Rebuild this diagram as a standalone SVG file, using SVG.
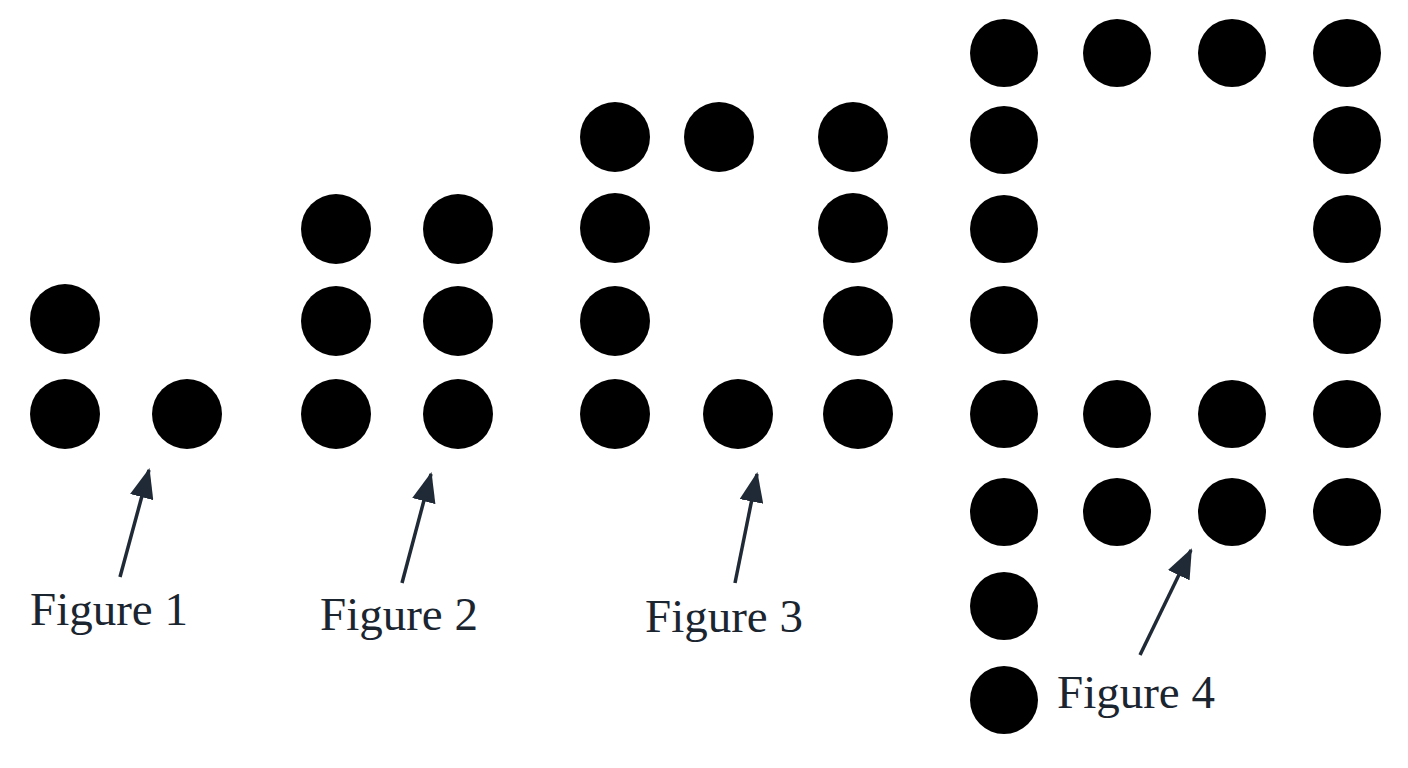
<svg xmlns="http://www.w3.org/2000/svg" width="1408" height="768" viewBox="0 0 1408 768">
<style>
.d{fill:#000}
.l{font-family:"Liberation Serif",serif;font-size:47px;fill:#1a2530}
.a{stroke:#1f2a36;stroke-width:3.5;fill:none}
</style>
<defs><marker id="ah" markerWidth="10" markerHeight="10" refX="8" refY="5" orient="auto" markerUnits="userSpaceOnUse" viewBox="0 0 10 10"><path d="M0,0 L10,5 L0,10 Z" fill="#1f2a36"/></marker>
<marker id="h" viewBox="0 0 30 24" refX="28" refY="12" markerWidth="30" markerHeight="24" orient="auto" markerUnits="userSpaceOnUse"><path d="M0,0 L30,12 L0,24 Z" fill="#1f2a36"/></marker></defs>
<rect width="1408" height="768" fill="#fff"/>
<g id="fig1"><circle class="d" cx="65" cy="319" r="35"/><circle class="d" cx="65" cy="414" r="35"/><circle class="d" cx="187" cy="414" r="35"/><text class="l" x="30" y="625">Figure 1</text></g>
<g id="fig2"><circle class="d" cx="336" cy="229" r="35"/><circle class="d" cx="458" cy="229" r="35"/><circle class="d" cx="336" cy="321" r="35"/><circle class="d" cx="458" cy="321" r="35"/><circle class="d" cx="336" cy="414" r="35"/><circle class="d" cx="458" cy="414" r="35"/><text class="l" x="320" y="630">Figure 2</text></g>
<g id="fig3"><circle class="d" cx="615" cy="137" r="35"/><circle class="d" cx="719" cy="137" r="35"/><circle class="d" cx="853" cy="137" r="35"/><circle class="d" cx="615" cy="228" r="35"/><circle class="d" cx="853" cy="228" r="35"/><circle class="d" cx="615" cy="321" r="35"/><circle class="d" cx="858" cy="321" r="35"/><circle class="d" cx="615" cy="414" r="35"/><circle class="d" cx="738" cy="414" r="35"/><circle class="d" cx="858" cy="414" r="35"/><text class="l" x="645" y="632">Figure 3</text></g>
<g id="fig4">
<circle class="d" cx="1004" cy="53" r="34"/><circle class="d" cx="1117" cy="53" r="34"/><circle class="d" cx="1232" cy="53" r="34"/><circle class="d" cx="1347" cy="53" r="34"/>
<circle class="d" cx="1004" cy="140" r="34"/><circle class="d" cx="1347" cy="140" r="34"/>
<circle class="d" cx="1004" cy="229" r="34"/><circle class="d" cx="1347" cy="229" r="34"/>
<circle class="d" cx="1004" cy="320" r="34"/><circle class="d" cx="1347" cy="320" r="34"/>
<circle class="d" cx="1004" cy="414" r="34"/><circle class="d" cx="1117" cy="414" r="34"/><circle class="d" cx="1232" cy="414" r="34"/><circle class="d" cx="1347" cy="414" r="34"/>
<circle class="d" cx="1004" cy="512" r="34"/><circle class="d" cx="1117" cy="512" r="34"/><circle class="d" cx="1232" cy="512" r="34"/><circle class="d" cx="1347" cy="512" r="34"/>
<circle class="d" cx="1004" cy="606" r="34"/><circle class="d" cx="1004" cy="700" r="34"/>
<text class="l" x="1057" y="708">Figure 4</text></g>
<g id="connectors">
<line class="a" x1="120" y1="577" x2="149" y2="470" marker-end="url(#h)"/>
<line class="a" x1="402" y1="583" x2="431" y2="474" marker-end="url(#h)"/>
<line class="a" x1="735" y1="583" x2="757" y2="474" marker-end="url(#h)"/>
<line class="a" x1="1140" y1="655" x2="1191" y2="550" marker-end="url(#h)"/>
</g>
</svg>
